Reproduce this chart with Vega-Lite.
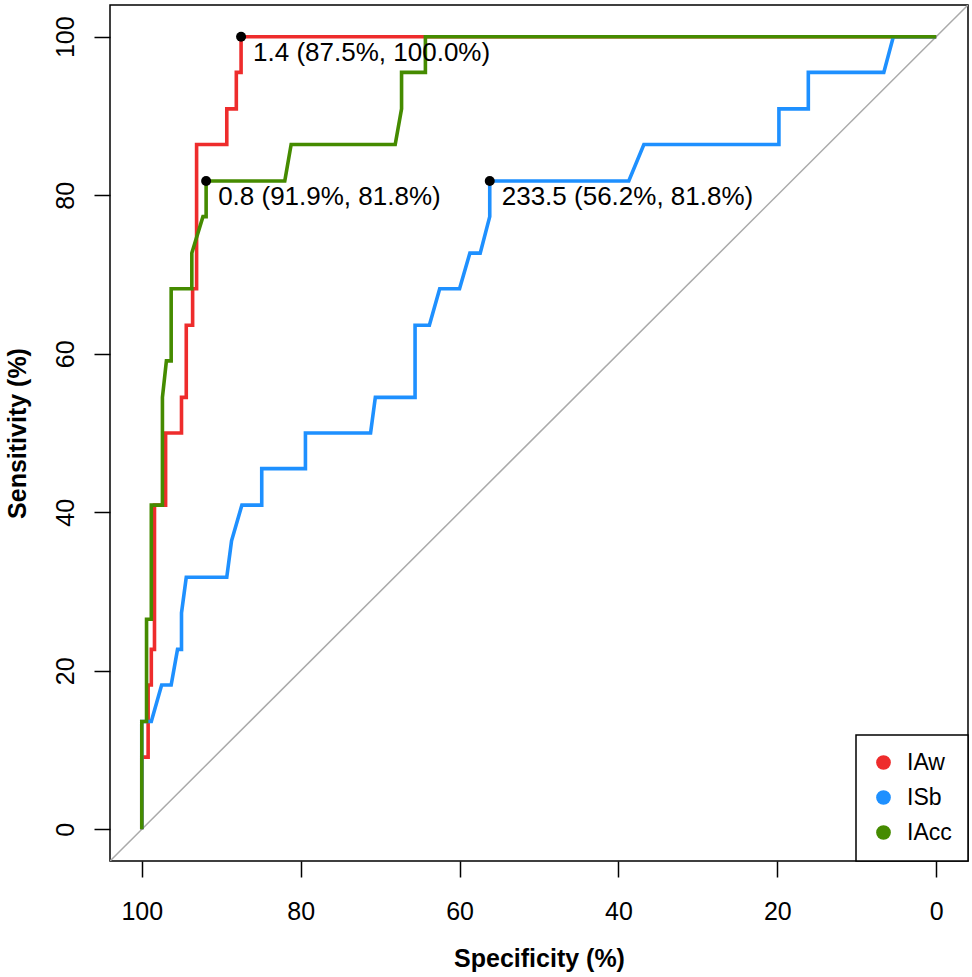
{
  "$schema": "https://vega.github.io/schema/vega-lite/v6.json",
  "autosize": {"type": "none"},
  "width": 858,
  "height": 856,
  "padding": {"left": 110, "top": 5, "right": 4, "bottom": 116},
  "background": "white",
  "config": {
    "font": "Liberation Sans",
    "view": {"stroke": "black", "strokeWidth": 1.5},
    "axis": {
      "grid": false, "domain": false,
      "tickColor": "black", "tickWidth": 1.5, "tickSize": 16,
      "labelColor": "black", "labelFontSize": 25, "labelOverlap": false, "labelFlush": false,
      "labelBaseline": "alphabetic",
      "titleFontSize": 25, "titleFontWeight": "bold", "titleColor": "black", "titleBaseline": "alphabetic"
    },
    "legend": {
      "orient": "bottom-right", "offset": 0, "padding": 16,
      "fillColor": "white", "strokeColor": "black", "strokeWidth": 1.5,
      "labelFontSize": 23, "labelColor": "black",
      "symbolType": "circle", "symbolSize": 175, "rowPadding": 11, "columnPadding": 0, "labelOffset": 12
    }
  },
  "datasets": {
    "roc": [
      {"curve": "IAw", "i": 1, "spec": 100, "sens": 0},
      {"curve": "IAw", "i": 2, "spec": 100, "sens": 9.1},
      {"curve": "IAw", "i": 3, "spec": 99.2, "sens": 9.1},
      {"curve": "IAw", "i": 4, "spec": 99.2, "sens": 18.2},
      {"curve": "IAw", "i": 5, "spec": 98.8, "sens": 18.2},
      {"curve": "IAw", "i": 6, "spec": 98.8, "sens": 22.7},
      {"curve": "IAw", "i": 7, "spec": 98.4, "sens": 22.7},
      {"curve": "IAw", "i": 8, "spec": 98.4, "sens": 40.9},
      {"curve": "IAw", "i": 9, "spec": 97.0, "sens": 40.9},
      {"curve": "IAw", "i": 10, "spec": 97.0, "sens": 50.0},
      {"curve": "IAw", "i": 11, "spec": 95.0, "sens": 50.0},
      {"curve": "IAw", "i": 12, "spec": 95.0, "sens": 54.5},
      {"curve": "IAw", "i": 13, "spec": 94.4, "sens": 54.5},
      {"curve": "IAw", "i": 14, "spec": 94.4, "sens": 63.6},
      {"curve": "IAw", "i": 15, "spec": 93.6, "sens": 63.6},
      {"curve": "IAw", "i": 16, "spec": 93.6, "sens": 68.2},
      {"curve": "IAw", "i": 17, "spec": 93.1, "sens": 68.2},
      {"curve": "IAw", "i": 18, "spec": 93.1, "sens": 86.4},
      {"curve": "IAw", "i": 19, "spec": 89.3, "sens": 86.4},
      {"curve": "IAw", "i": 20, "spec": 89.3, "sens": 90.9},
      {"curve": "IAw", "i": 21, "spec": 88.1, "sens": 90.9},
      {"curve": "IAw", "i": 22, "spec": 88.1, "sens": 95.5},
      {"curve": "IAw", "i": 23, "spec": 87.5, "sens": 95.5},
      {"curve": "IAw", "i": 24, "spec": 87.5, "sens": 100},
      {"curve": "IAw", "i": 25, "spec": 0, "sens": 100},
      {"curve": "ISb", "i": 1, "spec": 100, "sens": 0},
      {"curve": "ISb", "i": 2, "spec": 100, "sens": 13.6},
      {"curve": "ISb", "i": 3, "spec": 98.8, "sens": 13.6},
      {"curve": "ISb", "i": 4, "spec": 97.5, "sens": 18.2},
      {"curve": "ISb", "i": 5, "spec": 96.3, "sens": 18.2},
      {"curve": "ISb", "i": 6, "spec": 95.5, "sens": 22.7},
      {"curve": "ISb", "i": 7, "spec": 95.0, "sens": 22.7},
      {"curve": "ISb", "i": 8, "spec": 95.0, "sens": 27.3},
      {"curve": "ISb", "i": 9, "spec": 94.4, "sens": 31.8},
      {"curve": "ISb", "i": 10, "spec": 89.3, "sens": 31.8},
      {"curve": "ISb", "i": 11, "spec": 88.7, "sens": 36.4},
      {"curve": "ISb", "i": 12, "spec": 87.4, "sens": 40.9},
      {"curve": "ISb", "i": 13, "spec": 84.9, "sens": 40.9},
      {"curve": "ISb", "i": 14, "spec": 84.9, "sens": 45.5},
      {"curve": "ISb", "i": 15, "spec": 79.4, "sens": 45.5},
      {"curve": "ISb", "i": 16, "spec": 79.4, "sens": 50.0},
      {"curve": "ISb", "i": 17, "spec": 71.2, "sens": 50.0},
      {"curve": "ISb", "i": 18, "spec": 70.6, "sens": 54.5},
      {"curve": "ISb", "i": 19, "spec": 65.6, "sens": 54.5},
      {"curve": "ISb", "i": 20, "spec": 65.6, "sens": 63.6},
      {"curve": "ISb", "i": 21, "spec": 63.8, "sens": 63.6},
      {"curve": "ISb", "i": 22, "spec": 62.5, "sens": 68.2},
      {"curve": "ISb", "i": 23, "spec": 60.0, "sens": 68.2},
      {"curve": "ISb", "i": 24, "spec": 58.7, "sens": 72.7},
      {"curve": "ISb", "i": 25, "spec": 57.4, "sens": 72.7},
      {"curve": "ISb", "i": 26, "spec": 56.2, "sens": 77.3},
      {"curve": "ISb", "i": 27, "spec": 56.2, "sens": 81.8},
      {"curve": "ISb", "i": 28, "spec": 38.7, "sens": 81.8},
      {"curve": "ISb", "i": 29, "spec": 36.8, "sens": 86.4},
      {"curve": "ISb", "i": 30, "spec": 19.8, "sens": 86.4},
      {"curve": "ISb", "i": 31, "spec": 19.8, "sens": 90.9},
      {"curve": "ISb", "i": 32, "spec": 16.1, "sens": 90.9},
      {"curve": "ISb", "i": 33, "spec": 16.1, "sens": 95.5},
      {"curve": "ISb", "i": 34, "spec": 6.6, "sens": 95.5},
      {"curve": "ISb", "i": 35, "spec": 5.4, "sens": 100},
      {"curve": "ISb", "i": 36, "spec": 0, "sens": 100},
      {"curve": "IAcc", "i": 1, "spec": 100, "sens": 0},
      {"curve": "IAcc", "i": 2, "spec": 100, "sens": 13.6},
      {"curve": "IAcc", "i": 3, "spec": 99.4, "sens": 13.6},
      {"curve": "IAcc", "i": 4, "spec": 99.4, "sens": 26.5},
      {"curve": "IAcc", "i": 5, "spec": 98.8, "sens": 26.5},
      {"curve": "IAcc", "i": 6, "spec": 98.8, "sens": 40.9},
      {"curve": "IAcc", "i": 7, "spec": 97.4, "sens": 40.9},
      {"curve": "IAcc", "i": 8, "spec": 97.4, "sens": 54.5},
      {"curve": "IAcc", "i": 9, "spec": 96.9, "sens": 59.1},
      {"curve": "IAcc", "i": 10, "spec": 96.3, "sens": 59.1},
      {"curve": "IAcc", "i": 11, "spec": 96.3, "sens": 68.2},
      {"curve": "IAcc", "i": 12, "spec": 93.7, "sens": 68.2},
      {"curve": "IAcc", "i": 13, "spec": 93.7, "sens": 72.7},
      {"curve": "IAcc", "i": 14, "spec": 92.3, "sens": 77.3},
      {"curve": "IAcc", "i": 15, "spec": 91.9, "sens": 77.3},
      {"curve": "IAcc", "i": 16, "spec": 91.9, "sens": 81.8},
      {"curve": "IAcc", "i": 17, "spec": 82.0, "sens": 81.8},
      {"curve": "IAcc", "i": 18, "spec": 81.2, "sens": 86.4},
      {"curve": "IAcc", "i": 19, "spec": 68.1, "sens": 86.4},
      {"curve": "IAcc", "i": 20, "spec": 67.3, "sens": 90.9},
      {"curve": "IAcc", "i": 21, "spec": 67.3, "sens": 95.5},
      {"curve": "IAcc", "i": 22, "spec": 64.3, "sens": 95.5},
      {"curve": "IAcc", "i": 23, "spec": 64.3, "sens": 100},
      {"curve": "IAcc", "i": 24, "spec": 0, "sens": 100}
    ],
    "diag": [
      {"spec": 104, "sens": -4},
      {"spec": -4, "sens": 104}
    ],
    "best": [
      {"curve": "IAw", "spec": 87.5, "sens": 100, "label": "1.4 (87.5%, 100.0%)"},
      {"curve": "IAcc", "spec": 91.9, "sens": 81.8, "label": "0.8 (91.9%, 81.8%)"},
      {"curve": "ISb", "spec": 56.2, "sens": 81.8, "label": "233.5 (56.2%, 81.8%)"}
    ]
  },
  "encoding": {
    "x": {
      "field": "spec", "type": "quantitative",
      "scale": {"domain": [-4, 104], "reverse": true, "nice": false, "zero": false},
      "axis": {"values": [0, 20, 40, 60, 80, 100], "title": "Specificity (%)", "labelPadding": 42, "titleY": 105}
    },
    "y": {
      "field": "sens", "type": "quantitative",
      "scale": {"domain": [-4, 104], "nice": false, "zero": false},
      "axis": {"values": [0, 20, 40, 60, 80, 100], "title": "Sensitivity (%)", "labelAngle": -90, "labelAlign": "center", "labelPadding": 21, "titleAngle": -90, "titleX": -85}
    }
  },
  "layer": [
    {
      "data": {"name": "diag"},
      "mark": {"type": "line", "color": "#aaaaaa", "strokeWidth": 1.5, "clip": true},
      "encoding": {}
    },
    {
      "data": {"name": "roc"},
      "transform": [{"filter": "datum.curve === 'IAw'"}],
      "mark": {"type": "line", "strokeWidth": 3.6},
      "encoding": {
        "order": {"field": "i", "type": "quantitative"},
        "color": {
          "field": "curve", "type": "nominal",
          "scale": {"domain": ["IAw", "ISb", "IAcc"], "range": ["#EE2C2C", "#1E90FF", "#458B00"]},
          "legend": {"title": null, "symbolType": "circle", "encode": {"symbols": {"update": {"fill": {"scale": "color", "field": "value"}, "stroke": {"value": "transparent"}}}}}
        }
      }
    },
    {
      "data": {"name": "roc"},
      "transform": [{"filter": "datum.curve === 'ISb'"}],
      "mark": {"type": "line", "strokeWidth": 3.6},
      "encoding": {
        "order": {"field": "i", "type": "quantitative"},
        "color": {"field": "curve", "type": "nominal"}
      }
    },
    {
      "data": {"name": "roc"},
      "transform": [{"filter": "datum.curve === 'IAcc'"}],
      "mark": {"type": "line", "strokeWidth": 3.6},
      "encoding": {
        "order": {"field": "i", "type": "quantitative"},
        "color": {"field": "curve", "type": "nominal"}
      }
    },
    {
      "data": {"name": "best"},
      "mark": {"type": "circle", "color": "black", "size": 100, "opacity": 1}
    },
    {
      "data": {"name": "best"},
      "mark": {"type": "text", "align": "left", "baseline": "alphabetic", "dx": 12, "dy": 24, "fontSize": 26, "color": "black"},
      "encoding": {"text": {"field": "label"}}
    }
  ]
}
